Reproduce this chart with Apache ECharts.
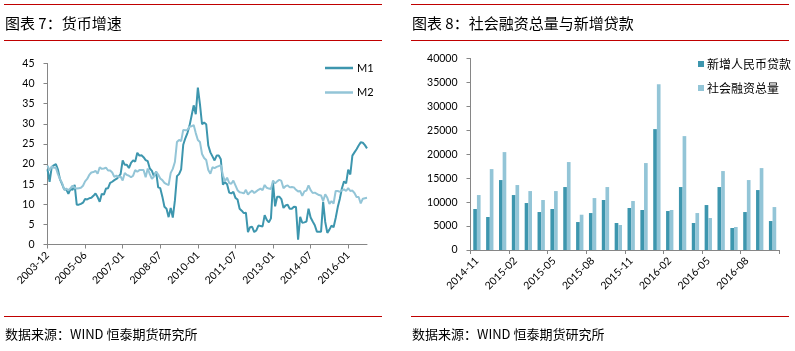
<!DOCTYPE html>
<html>
<head>
<meta charset="utf-8">
<script src="https://cdn.jsdelivr.net/npm/echarts@6/dist/echarts.min.js"></script>
<style>
  html, body { margin: 0; padding: 0; background: #fff; }
  #main { width: 795px; height: 351px; }
</style>
</head>
<body>
<div id="main"></div>
<script>
  // 货币增速 (%)，2003-12 至 2016-10，原图缺 2006-02
  const m1 = [
    18.7,
    15.6, 19.2, 19.7, 20.0, 18.6, 16.2, 15.0, 13.7, 13.7, 12.6, 13.8, 13.6,
    14.8, 9.9, 9.9, 10.1, 10.4, 11.3, 11.2, 11.5, 11.6, 12.1, 12.7, 11.8,
    10.6, 12.6, 12.4, 13.9, 14.0, 15.3, 15.6, 16.0, 16.3, 16.8, 17.5,
    20.9, 19.8, 19.8, 19.0, 20.3, 20.9, 20.6, 22.8, 22.1, 22.2, 21.7, 21.0,
    20.7, 18.9, 18.3, 16.9, 18.1, 14.2, 14.0, 11.9, 9.4, 8.9, 6.8, 9.1,
    6.7, 10.9, 17.0, 17.5, 18.7, 24.8, 26.4, 27.7, 29.5, 32.0, 34.6, 32.4,
    39.0, 34.9, 29.9, 30.3, 29.9, 24.6, 22.9, 21.9, 20.9, 22.1, 22.1, 21.2,
    14.9, 15.5, 15.0, 12.9, 12.7, 13.1, 11.6, 11.2, 8.9, 8.4, 7.8, 7.9,
    3.1, 4.3, 4.4, 3.1, 3.5, 4.7, 4.6, 4.5, 7.3, 6.1, 5.5, 6.5,
    15.3, 9.5, 11.9, 11.9, 11.3, 9.1, 9.7, 9.9, 8.9, 8.9, 9.4, 9.3,
    1.2, 6.9, 5.4, 5.5, 5.7, 8.9, 6.7, 5.7, 4.8, 3.2, 3.2, 3.2,
    10.6, 5.6, 2.9, 3.7, 4.7, 4.3, 6.6, 9.3, 11.4, 14.0, 15.7, 15.2,
    18.6, 17.4, 22.1, 22.9, 23.7, 24.6, 25.4, 25.3, 24.7, 23.9
  ];
  const m2 = [
    19.6,
    18.4, 19.4, 19.1, 19.1, 17.5, 16.2, 15.3, 13.6, 13.9, 13.5, 14.0, 14.6,
    14.1, 13.9, 14.0, 14.1, 14.6, 15.7, 16.3, 17.3, 17.9, 18.0, 18.3, 17.6,
    19.2, 18.8, 18.9, 19.1, 18.4, 18.4, 17.9, 16.8, 17.1, 16.8, 16.9,
    15.9, 17.8, 17.3, 17.1, 16.7, 17.1, 18.5, 18.1, 18.5, 18.5, 18.5, 16.7,
    18.9, 17.5, 16.3, 16.9, 18.1, 17.4, 16.4, 16.0, 15.3, 15.0, 14.8, 17.8,
    18.8, 20.5, 25.5, 26.0, 25.7, 28.5, 28.4, 28.5, 29.3, 29.4, 29.7, 27.7,
    26.0, 25.5, 22.5, 21.5, 21.0, 18.5, 17.6, 19.2, 19.0, 19.3, 19.5, 19.7,
    17.2, 15.7, 16.6, 15.3, 15.1, 15.9, 14.7, 13.5, 13.0, 12.9, 12.7, 13.6,
    12.4, 13.0, 13.4, 12.8, 13.2, 13.6, 13.9, 13.5, 14.8, 14.1, 13.9, 13.8,
    15.9, 15.2, 15.7, 16.1, 15.8, 14.0, 14.5, 14.7, 14.2, 14.3, 14.2, 13.6,
    13.2, 13.3, 12.1, 13.2, 13.4, 14.7, 13.5, 12.8, 12.9, 12.6, 12.3, 12.2,
    10.8, 12.5, 11.6, 10.1, 10.8, 10.2, 13.3, 13.3, 13.1, 13.5, 13.7, 13.3,
    14.0, 13.3, 13.4, 12.8, 11.8, 11.8, 10.2, 11.4, 11.5, 11.6
  ];

  // 社会融资总量与新增贷款 (亿元)，2014-11 至 2016-10
  const loans = [8560, 6890, 14610, 11480, 9810, 7930, 8560, 13150, 5840, 7720, 10440, 5640,
    8770, 8350, 25250, 8140, 13150, 5640, 9390, 13150, 4590, 7930, 12520, 6050];
  const tsf = [11480, 16900, 20450, 13570, 12310, 10440, 12310, 18370, 7370, 10850, 13150, 5220,
    10230, 18160, 34640, 8350, 23790, 7720, 6680, 16490, 4800, 14610, 17110, 8970];

  const monthList = (y0, mo0, y1, mo1, skip) => {
    const out = [];
    let y = y0;
    let mo = mo0;
    while (y < y1 || (y === y1 && mo <= mo1)) {
      const s = `${y}-${mo < 10 ? '0' + mo : mo}`;
      if (skip.indexOf(s) < 0) out.push(s);
      mo += 1;
      if (mo > 12) { mo = 1; y += 1; }
    }
    return out;
  };
  const moneyMonths = monthList(2003, 12, 2016, 10, ['2006-02']);
  const loanMonths = monthList(2014, 11, 2016, 10, []);

  const dark = '#3D96AE';
  const light = '#93C5D7';
  const red = '#C00000';
  const axisGrey = '#868686';
  const cjk = '"Noto Sans CJK SC", sans-serif';
  const latin = 'Lato, "Noto Sans", sans-serif';

  const axisCommon = {
    axisLine: { show: true, lineStyle: { color: axisGrey, width: 1 } },
    splitLine: { show: false },
  };

  const chart = echarts.init(document.getElementById('main'), null, { renderer: 'canvas' });

  const redLine = (x1, x2, y) => ({
    type: 'line',
    shape: { x1, y1: y, x2, y2: y },
    style: { stroke: red, lineWidth: 1 },
  });
  const label = (x, y, text, size) => ({
    type: 'text',
    x,
    y,
    style: { text, fill: '#000', font: `${size}px ${cjk}`, verticalAlign: 'middle' },
  });

  const option = {
    animation: false,
    grid: [
      { left: 47.5, top: 63.5, width: 319.5, height: 181 },
      { left: 470.5, top: 58.5, width: 308.5, height: 191.5 },
    ],
    legend: [
      {
        data: ['M1', 'M2'],
        orient: 'vertical',
        left: 320,
        top: 56,
        icon: 'rect',
        itemWidth: 28,
        itemHeight: 2.5,
        itemGap: 10.5,
        textStyle: { fontSize: 11, color: '#000', fontFamily: latin, lineHeight: 14, padding: [0, 0, 0, -1] },
      },
      {
        data: ['新增人民币贷款', '社会融资总量'],
        orient: 'vertical',
        left: 693,
        top: 52,
        itemWidth: 6,
        itemHeight: 6,
        itemGap: 10,
        icon: 'rect',
        textStyle: { fontSize: 12, color: '#000', fontFamily: cjk, lineHeight: 14, padding: [0, 0, 0, -2] },
      },
    ],
    xAxis: [
      Object.assign({}, axisCommon, {
        type: 'category',
        gridIndex: 0,
        data: moneyMonths,
        boundaryGap: false,
        axisTick: { show: true, interval: 17, length: 4, lineStyle: { color: axisGrey } },
        axisLabel: { interval: 17, rotate: 45, margin: 9, fontSize: 10.5, color: '#000', fontFamily: latin },
      }),
      Object.assign({}, axisCommon, {
        type: 'category',
        gridIndex: 1,
        data: loanMonths,
        boundaryGap: true,
        axisTick: { show: true, interval: 2, length: 4, lineStyle: { color: axisGrey } },
        axisLabel: { interval: 2, rotate: 45, margin: 9, fontSize: 10.5, color: '#000', fontFamily: latin },
      }),
    ],
    yAxis: [
      Object.assign({}, axisCommon, {
        type: 'value',
        gridIndex: 0,
        min: 0,
        max: 45,
        interval: 5,
        axisTick: { show: true, length: 4, lineStyle: { color: axisGrey } },
        axisLabel: { margin: 13, fontSize: 10.5, color: '#000', fontFamily: latin },
      }),
      Object.assign({}, axisCommon, {
        type: 'value',
        gridIndex: 1,
        min: 0,
        max: 40000,
        interval: 5000,
        axisTick: { show: true, length: 4, lineStyle: { color: axisGrey } },
        axisLabel: {
          margin: 13,
          fontSize: 10.5,
          color: '#000',
          fontFamily: latin,
          formatter: (v) => String(v),
        },
      }),
    ],
    series: [
      {
        name: 'M1',
        type: 'line',
        xAxisIndex: 0,
        yAxisIndex: 0,
        data: m1,
        symbol: 'none',
        color: dark,
        lineStyle: { color: dark, width: 2 },
      },
      {
        name: 'M2',
        type: 'line',
        xAxisIndex: 0,
        yAxisIndex: 0,
        data: m2,
        symbol: 'none',
        color: light,
        lineStyle: { color: light, width: 2 },
      },
      {
        name: '新增人民币贷款',
        type: 'bar',
        xAxisIndex: 1,
        yAxisIndex: 1,
        data: loans,
        color: dark,
        barGap: '0%',
        barCategoryGap: '43%',
      },
      {
        name: '社会融资总量',
        type: 'bar',
        xAxisIndex: 1,
        yAxisIndex: 1,
        data: tsf,
        color: light,
        barGap: '0%',
        barCategoryGap: '43%',
      },
    ],
    graphic: [
      redLine(4, 382, 4.5),
      redLine(4, 382, 40.5),
      redLine(4, 382, 316.5),
      redLine(411, 789, 4.5),
      redLine(411, 789, 40.5),
      redLine(411, 789, 316.5),
      label(5, 23, '图表 7：货币增速', 15),
      label(412, 23, '图表 8：社会融资总量与新增贷款', 15),
      label(5, 334, '数据来源：WIND 恒泰期货研究所', 13),
      label(412, 334, '数据来源：WIND 恒泰期货研究所', 13),
    ],
  };

  chart.setOption(option);
</script>
</body>
</html>
